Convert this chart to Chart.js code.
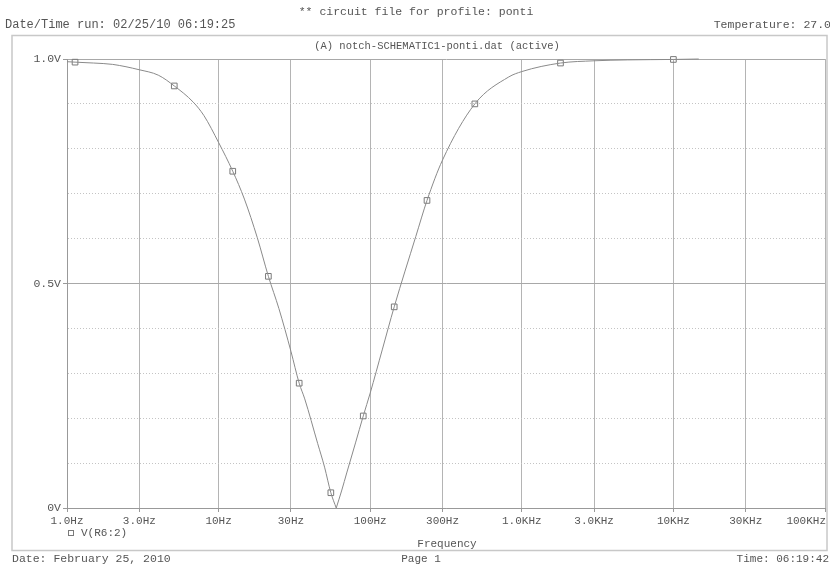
<!DOCTYPE html>
<html>
<head>
<meta charset="utf-8">
<script src="https://cdn.jsdelivr.net/npm/chart.js@4.4.0/dist/chart.umd.min.js"></script>
<style>
html, body { margin: 0; padding: 0; background: #fff; }
canvas { display: block; }
</style>
</head>
<body>
<canvas id="graficoNotch" width="830" height="566"></canvas>
<script>
// sweep: frequency (Hz) -> V(R6:2) (V)
const freqs = [1, 1.13, 1.5, 2, 3, 4, 5.1, 6.8, 8, 10, 12.4, 14.8, 18, 21.3, 25, 30, 34, 37, 45, 50, 55, 59.7,
               65, 70, 80, 90, 100, 120, 144, 200, 237, 300, 490, 820, 1000, 1800, 3000, 5000, 10000, 14700];
const volts = [0.994, 0.993, 0.991, 0.988, 0.976, 0.964, 0.940, 0.904, 0.874, 0.814, 0.750, 0.688, 0.602, 0.516, 0.444, 0.349, 0.278, 0.243, 0.144, 0.091, 0.034, 0.0,
               0.040, 0.078, 0.145, 0.205, 0.256, 0.352, 0.448, 0.605, 0.685, 0.775, 0.900, 0.960, 0.972, 0.991, 0.996, 0.998, 0.999, 1.0];

// the little square markers on the trace
const markerFreqs = [1.13, 5.1, 12.4, 21.3, 34, 55, 90, 144, 237, 490, 1800, 10000];
const markerVolts = [0.993, 0.940, 0.750, 0.516, 0.278, 0.034, 0.205, 0.448, 0.685, 0.900, 0.991, 0.999];

const xTickVals = [1, 3, 10, 30, 100, 300, 1000, 3000, 10000, 30000, 100000];
const xTickLabels = ["1.0Hz", "3.0Hz", "10Hz", "30Hz", "100Hz", "300Hz", "1.0KHz", "3.0KHz", "10KHz", "30KHz", "100KHz"];
const yTickVals = [0, 0.5, 1.0];
const yTickLabels = ["0V", "0.5V", "1.0V"];

const fonte = "'Liberation Mono', 'DejaVu Sans Mono', monospace";
const corTexto = "#555";
const corCurva = "#8a8a8a";

function rotulado(v) {
    return yTickVals.some(t => Math.abs(t - v) < 1e-6);
}

// split at the notch so each branch is smoothed on its own and the bottom stays sharp
const iNotch = volts.indexOf(Math.min(...volts));
const pontos = freqs.map((f, i) => ({ x: f, y: volts[i] }));
const ramoEsq = pontos.slice(0, iNotch + 1);
const ramoDir = pontos.slice(iNotch);

// header, footer, frame, x labels and legend, like the PSpice printout
const textosPagina = {
    id: "textosPagina",
    afterDraw(chart) {
        const ctx = chart.ctx;
        const xs = chart.scales.x;
        ctx.save();

        ctx.strokeStyle = "#c8c8c8";
        ctx.lineWidth = 1.5;
        ctx.strokeRect(12, 35.5, 815, 515);

        ctx.fillStyle = corTexto;
        ctx.textBaseline = "middle";

        ctx.font = "11.5px " + fonte;
        ctx.textAlign = "center";
        ctx.fillText("** circuit file for profile: ponti", 416, 12);
        ctx.textAlign = "left";
        ctx.font = "12px " + fonte;
        ctx.fillText("Date/Time run: 02/25/10 06:19:25", 5, 25);
        ctx.textAlign = "right";
        ctx.font = "11.5px " + fonte;
        ctx.fillText("Temperature: 27.0", 831, 25);

        ctx.font = "10.5px " + fonte;
        ctx.textAlign = "center";
        ctx.fillText("(A) notch-SCHEMATIC1-ponti.dat (active)", 437, 46);

        ctx.font = "11px " + fonte;
        ctx.fillText("Frequency", 447, 544);
        ctx.fillText("Page 1", 421, 559);
        ctx.textAlign = "right";
        ctx.fillText("Time: 06:19:42", 829, 559);
        ctx.textAlign = "left";
        ctx.font = "11.5px " + fonte;
        ctx.fillText("Date: February 25, 2010", 12, 559);

        // x tick labels, last one kept inside the frame
        ctx.font = "11px " + fonte;
        ctx.textAlign = "center";
        xTickVals.forEach((v, i) => {
            const w = ctx.measureText(xTickLabels[i]).width;
            const px = Math.min(xs.getPixelForValue(v), 826 - w / 2);
            ctx.fillText(xTickLabels[i], px, 521);
        });

        // legend
        const ds = chart.data.datasets.find(d => d.label === "V(R6:2)");
        ctx.strokeStyle = ds.borderColor;
        ctx.lineWidth = 1;
        ctx.strokeRect(68.5, 530.5, 5, 5);
        ctx.textAlign = "left";
        ctx.fillText(ds.label, 81, 533);

        ctx.restore();
    }
};

const ramo = (label, data) => ({
    label: label,
    data: data,
    borderColor: corCurva,
    borderWidth: 1,
    pointRadius: 0,
    cubicInterpolationMode: "monotone",
    fill: false,
    clip: false
});

const ctx = document.getElementById("graficoNotch").getContext("2d");
new Chart(ctx, {
    type: "line",
    data: {
        datasets: [
            ramo("left", ramoEsq),
            ramo("right", ramoDir),
            {
                label: "V(R6:2)",
                data: markerFreqs.map((f, i) => ({ x: f, y: markerVolts[i] })),
                showLine: false,
                pointStyle: "rect",
                pointRadius: 4,
                pointBorderWidth: 1,
                borderColor: "#7a7a7a",
                backgroundColor: "rgba(255,255,255,0)",
                clip: false
            }
        ]
    },
    options: {
        responsive: false,
        animation: false,
        devicePixelRatio: 1,
        layout: { padding: { top: 59, right: 4, left: 0, bottom: 0 } },
        plugins: {
            legend: { display: false },
            tooltip: { enabled: false }
        },
        scales: {
            x: {
                type: "logarithmic",
                min: 1,
                max: 100000,
                afterBuildTicks: scale => {
                    scale.ticks = xTickVals.map(v => ({ value: v }));
                },
                afterFit: scale => { scale.height = 58; },
                ticks: { display: false },
                grid: {
                    color: "#b4b4b4",
                    lineWidth: 1,
                    drawTicks: true,
                    tickLength: 4,
                    tickColor: "#999"
                },
                border: { display: true, color: "#999", width: 1 }
            },
            y: {
                type: "linear",
                min: 0,
                max: 1,
                afterBuildTicks: scale => {
                    const t = [];
                    for (let i = 0; i <= 10; i++) t.push({ value: i / 10 });
                    scale.ticks = t;
                },
                afterFit: scale => { scale.width = 67; },
                ticks: {
                    padding: 2,
                    color: corTexto,
                    font: { family: fonte, size: 11.5 },
                    callback: value => {
                        const i = yTickVals.findIndex(t => Math.abs(t - value) < 1e-6);
                        return i >= 0 ? yTickLabels[i] : "";
                    }
                },
                grid: {
                    color: c => rotulado(c.tick.value) ? "#a8a8a8" : "#c4c4c4",
                    lineWidth: 1,
                    drawTicks: true,
                    tickLength: 4,
                    tickColor: c => rotulado(c.tick.value) ? "#999" : "rgba(0,0,0,0)"
                },
                border: {
                    display: true,
                    color: "#999",
                    width: 1,
                    dash: c => (c.tick && rotulado(c.tick.value)) ? [] : [1, 2]
                }
            }
        }
    },
    plugins: [textosPagina]
});
</script>
</body>
</html>
